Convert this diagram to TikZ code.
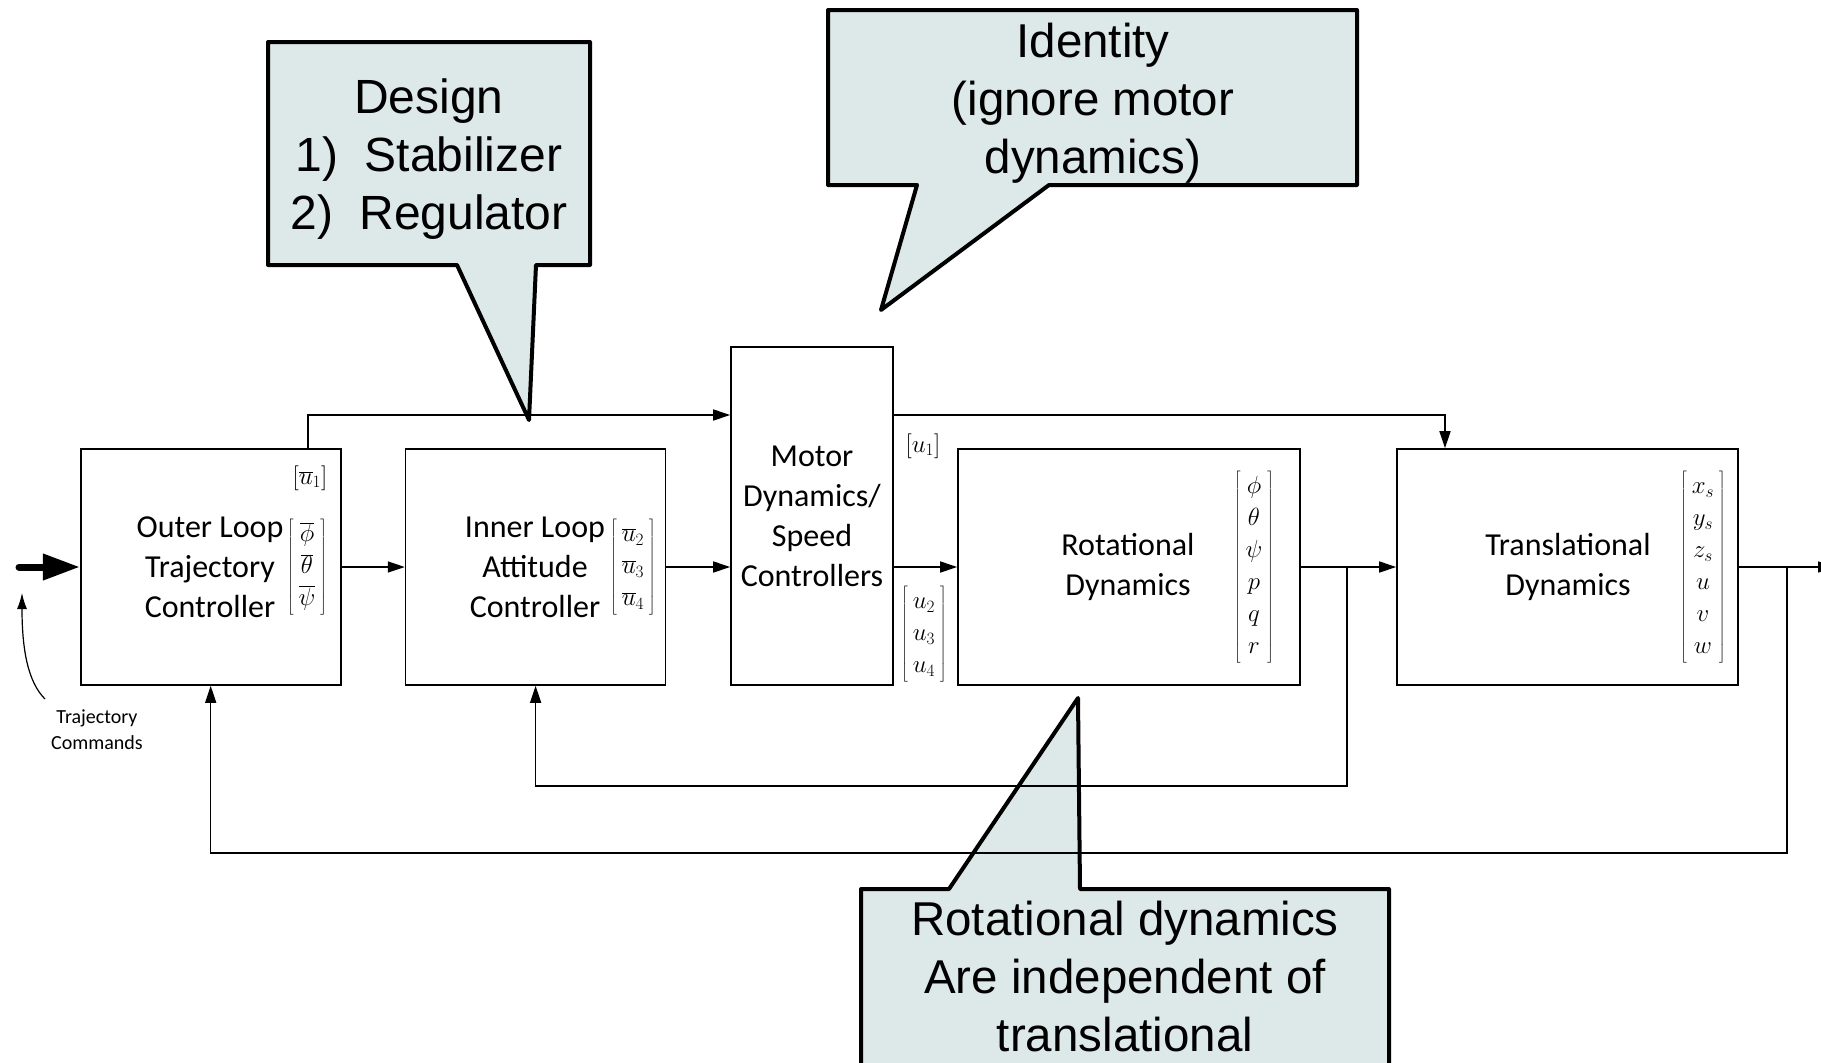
\documentclass[tikz,border=0pt]{standalone}
\usepackage{fontspec}
\newfontfamily\calfont{Carlito}
\newfontfamily\arialfont{Liberation Sans}
\usetikzlibrary{arrows.meta}
\definecolor{callfill}{RGB}{221,232,232}
\renewcommand{\arraystretch}{1.1}
\tikzset{
  blockbox/.style={draw, line width=1.6pt, inner sep=0pt},
  blocktext/.style={font=\calfont\fontsize{32}{40}\selectfont, align=center, inner sep=0pt},
  vecnode/.style={font=\fontsize{24}{29}\selectfont, inner sep=0pt},
  conn/.style={line width=1.5pt, draw=black},
  callline/.style={draw=black, line width=4pt, line join=round},
  calltext/.style={font=\arialfont\fontsize{47.5}{58}\selectfont, align=center, inner sep=0pt}
}
\begin{document}
\begin{tikzpicture}[x=1pt,y=-1pt, >={Triangle[length=17pt,width=11pt]}]
\useasboundingbox (0,0) rectangle (1821,1063);

% bottom callout coordinates and fill (behind the diagram lines)
\coordinate (c3a) at (861,889);
\coordinate (c3b) at (949,889);
\coordinate (c3tip) at (1078,698);
\coordinate (c3c) at (1080,889);
\coordinate (c3d) at (1389,889);
\coordinate (c3e) at (1389,1085);
\coordinate (c3f) at (861,1085);
\fill[callfill] (c3a) -- (c3b) -- (c3tip) -- (c3c) -- (c3d) -- (c3e) -- (c3f) -- cycle;

% blocks
\node[blockbox, minimum width=260pt, minimum height=236pt] (outer) at (210.7,567) {};
\node[blockbox, minimum width=260pt, minimum height=236pt] (inner) at (535.6,567) {};
\node[blockbox, minimum width=162pt, minimum height=338pt] (motor) at (812,516) {};
\node[blockbox, minimum width=342pt, minimum height=236pt] (rot) at (1129,567) {};
\node[blockbox, minimum width=341pt, minimum height=236pt] (trans) at (1567.5,567) {};

% block texts
\node[blocktext] (outertxt) at (210,567) {Outer Loop\\Trajectory\\Controller};
\node[blocktext] (innertxt) at (535,567) {Inner Loop\\Attitude\\Controller};
\node[blocktext] (motortxt) at (812,516) {Motor\\Dynamics/\\Speed\\Controllers};
\node[blocktext] (rottxt) at (1128,567) {Rotational\\Dynamics};
\node[blocktext] (transtxt) at (1568,567) {Translational\\Dynamics};

% vectors
\node[vecnode] (vouter) at (307,567) {$\left[\begin{array}{c}\overline{\phi}\\ \overline{\theta}\\ \overline{\psi}\end{array}\right]$};
\node[vecnode] (vu1bar) at (310,478) {$[\overline{u}_1]$};
\node[vecnode] (vinner) at (633,567) {$\left[\begin{array}{c}\overline{u}_2\\ \overline{u}_3\\ \overline{u}_4\end{array}\right]$};
\node[vecnode] (vu1) at (923,446) {$[u_1]$};
\node[vecnode] (vu234) at (924,634) {$\left[\begin{array}{c}u_2\\ u_3\\ u_4\end{array}\right]$};
\node[vecnode] (vrot) at (1254,567) {$\left[\begin{array}{c}\phi\\ \theta\\ \psi\\ p\\ q\\ r\end{array}\right]$};
\node[vecnode] (vtrans) at (1703,567) {$\left[\begin{array}{c}x_s\\ y_s\\ z_s\\ u\\ v\\ w\end{array}\right]$};

% input
\coordinate (instart) at (19,567);
\draw[line width=7pt, line cap=round, -{Triangle[length=37pt,width=25pt]}] (instart) -- (outer.west);
\coordinate (tctail) at (45,699);
\coordinate (tctip) at (22,593);
\draw[line width=1.2pt, -{Latex[length=16pt,width=10pt]}] (tctail) .. controls (28,682) and (22,650) .. (tctip);
\node[font=\calfont\fontsize{20}{26}\selectfont, align=center, inner sep=0pt] (tclabel) at (97,730) {Trajectory\\Commands};

% forward connectors
\draw[conn, ->] (outer.east) -- (inner.west);
\draw[conn, ->] (inner.east) -- (inner.east -| motor.west);
\coordinate (t1) at (308,415);
\draw[conn, ->] (t1 |- outer.north) -- (t1) -- (t1 -| motor.west);
\coordinate (t2) at (1445,415);
\draw[conn, ->] (t2 -| motor.east) -- (t2) -- (t2 |- trans.north);
\draw[conn, ->] (rot.west -| motor.east) -- (rot.west);
\draw[conn, ->] (rot.east) -- (trans.west);
\coordinate (outend) at (1835,567);
\draw[conn, ->] (trans.east) -- (outend);

% feedback
\coordinate (b1) at (1347,786);
\draw[conn, ->] (b1 |- rot.east) -- (b1) -- (b1 -| inner.south) -- (inner.south);
\coordinate (b2) at (1787,853);
\draw[conn, ->] (b2 |- trans.east) -- (b2) -- (b2 -| outer.south) -- (outer.south);

% bottom callout border and text
\draw[callline] (c3a) -- (c3b) -- (c3tip) -- (c3c) -- (c3d) -- (c3e) -- (c3f) -- cycle;
\node[calltext] (c3txt) at (1125,977) {Rotational dynamics\\Are independent of\\translational};

% design callout
\filldraw[callline, fill=callfill] (268,42) -- (590,42) -- (590,265) -- (536,265) -- (529,420) -- (457,265) -- (268,265) -- cycle;
\node[calltext, font=\arialfont\fontsize{48}{58}\selectfont] (c1txt) at (429,159) {Design\\1)\hspace{0.55em}Stabilizer\\2)\hspace{0.55em}Regulator};

% identity callout
\filldraw[callline, fill=callfill] (828,10) -- (1357,10) -- (1357,185) -- (1049,185) -- (881,310) -- (917,185) -- (828,185) -- cycle;
\node[calltext] (c2txt) at (1093,103) {Identity\\(ignore motor\\dynamics)};
\end{tikzpicture}
\end{document}
